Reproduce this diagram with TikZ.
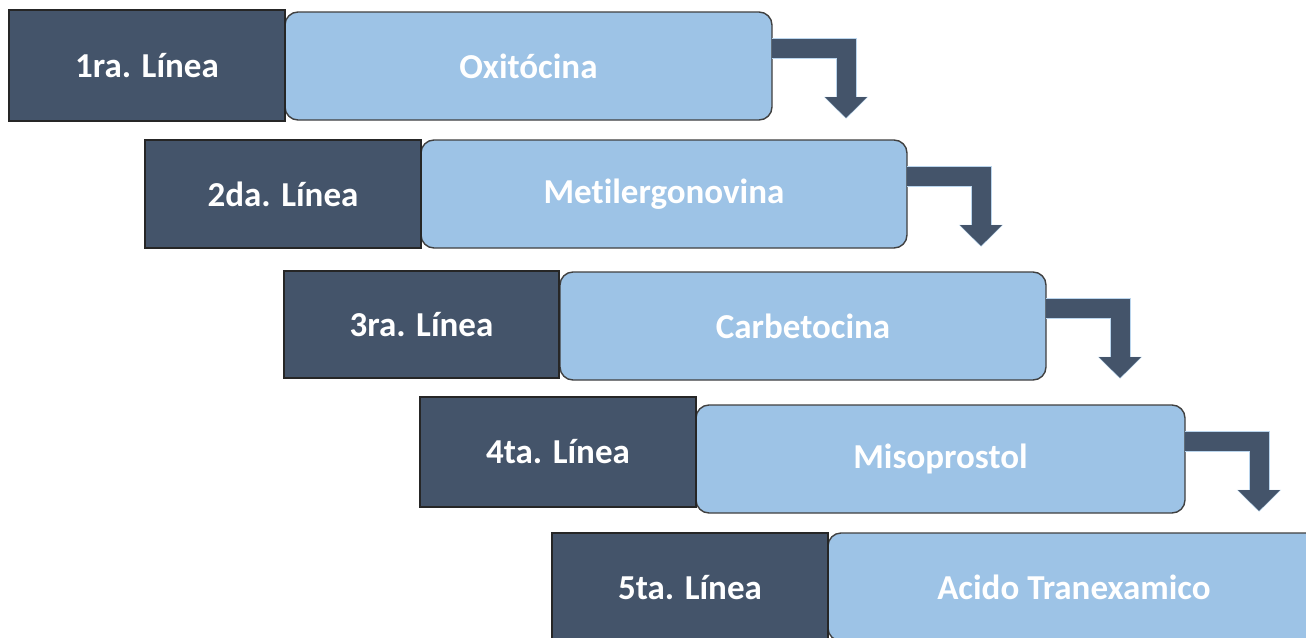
\documentclass[tikz,border=0pt]{standalone}
\usepackage{fontspec}
\setmainfont{Carlito}[Ligatures=NoCommon]
\usetikzlibrary{calc,arrows.meta}
\definecolor{darkbox}{HTML}{44546A}
\definecolor{lightbox}{HTML}{9DC3E6}
\tikzset{
  x=1pt, y=-1pt,
  linebox/.style={draw=black!85, line width=1.4pt, fill=darkbox, inner sep=0pt, outer sep=0pt,
    text=white, font=\fontsize{35}{40}\selectfont\bfseries},
  drugbox/.style={draw=black!75, line width=1.4pt, fill=lightbox, rounded corners=13pt, inner sep=0pt, outer sep=0pt,
    text=white, font=\fontsize{35}{40}\selectfont\bfseries},
  flowarrow/.style={draw=darkbox, line width=19pt, line join=miter, -{Triangle[length=21pt,width=41pt]}},
  arrowglow/.style={draw=lightbox!70, line width=21pt, line join=miter, -{Triangle[length=22pt,width=43pt]}}
}
\begin{document}
\begin{tikzpicture}
\clip (0,0) rectangle (1306,637);
\fill[white] (0,0) rectangle (1306,637);
% light (drug) boxes
\node[drugbox, minimum width=487, minimum height=108] (l1) at (528.5,66) {Oxitócina};
\node[drugbox, minimum width=486, minimum height=108] (l2) at (664,194) {Met\kern0pt ilergonovina};
\node[drugbox, minimum width=486, minimum height=108] (l3) at (803,326) {Carbetocina};
\node[drugbox, minimum width=489, minimum height=108] (l4) at (940.5,459) {Misoprostol};
\node[drugbox, minimum width=492, minimum height=108] (l5) at (1074,587) {Acido Tranexamico};
% dark (line) boxes
\node[linebox, minimum width=276, minimum height=111] (d1) at (147,65.5) {1ra. Línea};
\node[linebox, minimum width=276, minimum height=108] (d2) at (283,194) {2da. Línea};
\node[linebox, minimum width=275, minimum height=107] (d3) at (421.5,324.5) {3ra. Línea};
\node[linebox, minimum width=276, minimum height=110] (d4) at (558,452) {4ta. Línea};
\node[linebox, minimum width=276, minimum height=110] (d5) at (690,588) {5ta. Línea};
% arrow ends
\coordinate (e1) at ($(l1.north east)+(74,106)$);
\coordinate (e2) at ($(l2.north east)+(74,106)$);
\coordinate (e3) at ($(l3.north east)+(74,106)$);
\coordinate (e4) at ($(l4.north east)+(74,106)$);
% arrows
\foreach \i in {1,2,3,4}{
  \draw[arrowglow] ($(l\i.north east)+(0,36)$) -| ($(e\i)+(0,0.8)$);
  \draw[flowarrow] ($(l\i.north east)+(0,36)$) -| (e\i);
}
\end{tikzpicture}
\end{document}
